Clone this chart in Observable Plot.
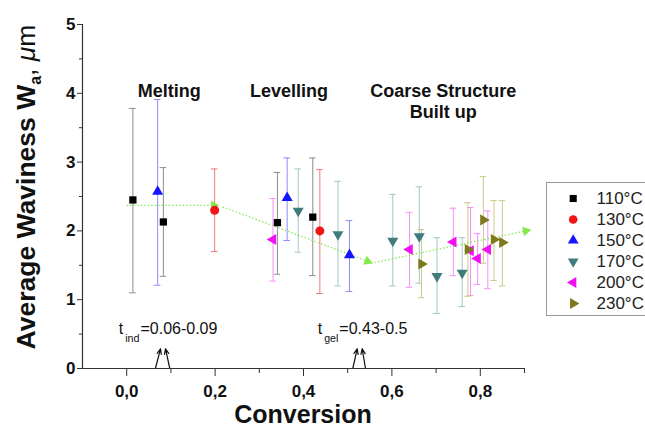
<!DOCTYPE html>
<html><head><meta charset="utf-8">
<script src="https://cdn.jsdelivr.net/npm/d3@7"></script>
<script src="https://cdn.jsdelivr.net/npm/@observablehq/plot@0.6"></script>
<style>
html,body{margin:0;padding:0;background:#fff;}
#wrap{position:relative;width:645px;height:427px;overflow:hidden;font-family:"Liberation Sans",Arial,sans-serif;background:#fff;}
#legend{position:absolute;left:546px;top:182px;width:110px;height:132px;border:1px solid #9a9a9a;background:#fff;}
</style></head><body><div id="wrap"><div id="chart"></div><div id="legend"></div></div>
<script>
// ---- series meta ----
const seriesNames = ["110°C", "130°C", "150°C", "170°C", "200°C", "230°C"];
const markerColors = ["#000000", "#ee1616", "#1414ff", "#417c7c", "#f010f0", "#7c7a1c"];
const barColors = ["#8c8c8c", "#f07878", "#8c8cff", "#a2c6c6", "#f590f5", "#cdc88e"];
const symbols = ["square", "circle", "triangle", "triangle", "triangle", "triangle"];
const rotations = [0, 0, 0, 180, -90, 90];

// ---- data: conversion, average waviness, error bar top / bottom ----
const conv110 = [0.014, 0.083, 0.341, 0.421];
const wa110 = [2.45, 2.13, 2.12, 2.20];
const hi110 = [3.78, 2.92, 2.85, 3.06];
const lo110 = [1.10, 1.34, 1.37, 1.35];

const conv130 = [0.199, 0.437];
const wa130 = [2.30, 2.00];
const hi130 = [2.90, 2.89];
const lo130 = [1.70, 1.09];

const conv150 = [0.070, 0.363, 0.504];
const wa150 = [2.57, 2.48, 1.65];
const hi150 = [3.91, 3.06, 2.15];
const lo150 = [1.21, 1.86, 1.12];

const conv170 = [0.388, 0.478, 0.602, 0.662, 0.702, 0.759];
const wa170 = [2.29, 1.95, 1.855, 1.92, 1.34, 1.39];
const hi170 = [2.90, 2.72, 2.53, 2.64, 1.90, 1.90];
const lo170 = [1.69, 1.20, 1.20, 1.24, 0.80, 0.90];

const conv200 = [0.331, 0.640, 0.739, 0.778, 0.794, 0.817];
const wa200 = [1.875, 1.73, 1.84, 1.71, 1.60, 1.73];
const hi200 = [2.47, 2.27, 2.33, 2.34, 1.96, 2.29];
const lo200 = [1.27, 1.18, 1.35, 1.06, 1.22, 1.16];

const conv230 = [0.667, 0.772, 0.807, 0.831, 0.850];
const wa230 = [1.52, 1.73, 2.16, 1.875, 1.83];
const hi230 = [2.02, 2.41, 2.79, 2.44, 2.44];
const lo230 = [1.03, 1.05, 1.53, 1.28, 1.20];

// ---- trend guide (dotted green arrows) ----
const trendX1 = [0.000, 0.217, 0.553];
const trendY1 = [2.37, 2.35, 1.53];
const trendX2 = [0.197, 0.545, 0.903];
const trendY2 = [2.37, 1.56, 2.00];

// ---- stage labels ----
const stageNames = ["Melting", "Levelling", "Coarse Structure\nBuilt up"];
const stageX = [0.096, 0.367, 0.716];
const stageY = [4.17, 4.17, 4.17];

// ---- onset annotations ----
const onsetSub = ["ind", "gel"];
const onsetRange = ["=0.06-0.09", "=0.43-0.5"];
const onsetX = [-0.018, 0.432];
const onsetY = [0.50, 0.50];
const onsetArrowX1 = [0.065, 0.0975, 0.5115, 0.5403];
const onsetArrowX2 = [0.0765, 0.0878, 0.5215, 0.5328];
const onsetArrowY1 = [0, 0, 0, 0];
const onsetArrowY2 = [0.286, 0.286, 0.286, 0.286];

// ---- axis ticks ----
const xTicks = [0, 0.2, 0.4, 0.6, 0.8];
const xMinor = [0.1, 0.3, 0.5, 0.7, 0.9];
const yTicks = [0, 1, 2, 3, 4, 5];
const yMinor = [0.5, 1.5, 2.5, 3.5, 4.5];

// ---- build tables ----
const allConv = [conv110, conv130, conv150, conv170, conv200, conv230];
const allWa = [wa110, wa130, wa150, wa170, wa200, wa230];
const allHi = [hi110, hi130, hi150, hi170, hi200, hi230];
const allLo = [lo110, lo130, lo150, lo170, lo200, lo230];
const seriesRows = seriesNames.map((s, i) =>
  allConv[i].map((x, j) => ({series: s, x, y: allWa[i][j], hi: allHi[i][j], lo: allLo[i][j]})));
const trend = trendX1.map((x1, i) => ({x1, y1: trendY1[i], x2: trendX2[i], y2: trendY2[i]}));
const stages = stageNames.map((t, i) => ({t, x: stageX[i], y: stageY[i]}));
const onsets = onsetSub.map((s, i) => ({sub: s, range: onsetRange[i], x: onsetX[i], y: onsetY[i]}));
const onsetArrows = onsetArrowX1.map((x1, i) => ({x1, x2: onsetArrowX2[i], y1: onsetArrowY1[i], y2: onsetArrowY2[i]}));

const W = 645, H = 427, mL = 82, mR = 121, mT = 24, mB = 59;
const xDom = [-0.1, 0.9], yDom = [0, 5];
const kx = (W - mL - mR) / (xDom[1] - xDom[0]);
const ky = (H - mT - mB) / (yDom[1] - yDom[0]);
const capHalf = 3.3 / kx;
const font = "'Liberation Sans', Arial, sans-serif";
const green = "#84e84c";

const marks = [];
// error bars
seriesRows.forEach((rows, i) => {
  marks.push(Plot.ruleX(rows, {x: "x", y1: "lo", y2: "hi", stroke: barColors[i], strokeWidth: 1}));
  marks.push(Plot.ruleY(rows, {y: "hi", x1: d => d.x - capHalf, x2: d => d.x + capHalf, stroke: barColors[i], strokeWidth: 1}));
  marks.push(Plot.ruleY(rows, {y: "lo", x1: d => d.x - capHalf, x2: d => d.x + capHalf, stroke: barColors[i], strokeWidth: 1}));
});
// trend guide
marks.push(Plot.link(trend, {x1: "x1", y1: "y1", x2: "x2", y2: "y2", stroke: green, strokeWidth: 1.2, strokeDasharray: "1.5,2"}));
marks.push(Plot.dot(trend, {x: "x2", y: "y2", symbol: "triangle", r: 3.6, fill: green, stroke: "none",
  rotate: d => Math.atan2((d.x2 - d.x1) * kx, (d.y2 - d.y1) * ky) * 180 / Math.PI}));
// markers
seriesRows.forEach((rows, i) => {
  marks.push(Plot.dot(rows, {x: "x", y: "y", symbol: symbols[i], r: i === 1 ? 4.5 : 4.1,
    fill: markerColors[i], stroke: "none", rotate: rotations[i]}));
});
// stage labels
marks.push(Plot.text(stages, {x: "x", y: "y", text: "t", lineAnchor: "top", lineHeight: 1.17,
  fontSize: 18, fontWeight: "bold", fill: "#111"}));
// onset annotations
marks.push(Plot.text(onsets, {x: "x", y: "y", text: () => "t", textAnchor: "start", lineAnchor: "bottom", fontSize: 16, fill: "#111"}));
marks.push(Plot.text(onsets, {x: "x", y: "y", text: "sub", textAnchor: "start", lineAnchor: "bottom", dx: 6.5, dy: 7.5, fontSize: 10.7, fill: "#111"}));
marks.push(Plot.text(onsets, {x: "x", y: "y", text: "range", textAnchor: "start", lineAnchor: "bottom", dx: 21.7, fontSize: 16, fill: "#111"}));
marks.push(Plot.arrow(onsetArrows, {x1: "x1", y1: "y1", x2: "x2", y2: "y2", stroke: "#111", strokeWidth: 1.2, headLength: 7, headAngle: 45}));
// axes
marks.push(Plot.ruleX([xDom[0]], {stroke: "#333", strokeWidth: 1.2}));
marks.push(Plot.ruleY([0], {stroke: "#333", strokeWidth: 1.2}));
marks.push(Plot.axisX({ticks: xTicks, tickSize: 8, tickPadding: 8, label: null, stroke: "#333",
  tickFormat: d => d.toFixed(1).replace(".", ","), fontSize: 17, fontWeight: "bold", fill: "#111"}));
marks.push(Plot.axisX({ticks: xMinor, tickSize: 5, label: null, stroke: "#333", tickFormat: () => ""}));
marks.push(Plot.axisY({ticks: yTicks, tickSize: 5, tickPadding: 2, label: null, stroke: "#333",
  tickFormat: d => String(d), fontSize: 17, fontWeight: "bold", fill: "#111"}));
marks.push(Plot.axisY({ticks: yMinor, tickSize: 3, label: null, stroke: "#333", tickFormat: () => ""}));

const svg = Plot.plot({
  width: W, height: H, marginLeft: mL, marginRight: mR, marginTop: mT, marginBottom: mB,
  x: {domain: xDom}, y: {domain: yDom},
  style: {fontFamily: font, background: "transparent", color: "#111", overflow: "visible"},
  marks
});

// axis titles (with subscript / symbol)
const s = d3.select(svg);
const yl = s.append("text").attr("transform", "translate(35,187) rotate(-90)")
  .attr("text-anchor", "middle").attr("font-family", font).attr("font-size", 26.5).attr("font-weight", "bold").attr("fill", "#111");
yl.append("tspan").text("Average Waviness W");
yl.append("tspan").attr("font-size", 16).attr("dy", 6).text("a");
yl.append("tspan").attr("dy", -6).attr("font-weight", "normal").text(", ");
yl.append("tspan").attr("font-weight", "normal").attr("font-style", "italic").text("μ");
yl.append("tspan").attr("font-weight", "normal").text("m");
s.append("text").attr("x", 303).attr("y", 423).attr("text-anchor", "middle")
  .attr("font-family", font).attr("font-size", 25).attr("font-weight", "bold").attr("fill", "#111").text("Conversion");
document.getElementById("chart").appendChild(svg);

// legend
const legend = Plot.plot({
  width: 110, height: 132, margin: 0,
  y: {type: "point", domain: seriesNames, range: [14.3, 119.7], padding: 0, axis: null},
  style: {fontFamily: font, background: "transparent", color: "#222"},
  marks: [
    ...seriesNames.map((n, i) => Plot.dot([n], {y: d => d, frameAnchor: "left", dx: 25.7, symbol: symbols[i],
      r: i === 1 ? 4.3 : 4, fill: markerColors[i], stroke: "none", rotate: rotations[i]})),
    Plot.text(seriesNames, {y: d => d, text: d => d, frameAnchor: "left", dx: 49, textAnchor: "start", fontSize: 17, fill: "#222"})
  ]
});
document.getElementById("legend").appendChild(legend);
</script></body></html>
